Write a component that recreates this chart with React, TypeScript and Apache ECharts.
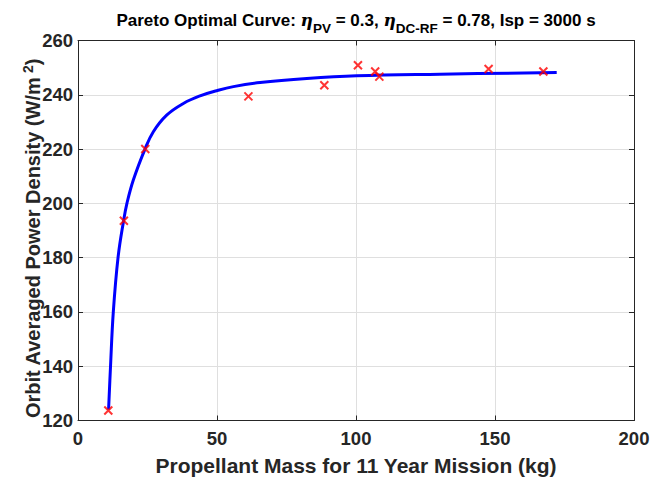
import React, { useEffect, useRef } from "react";
import * as echarts from "echarts";

const curveX = [11.0, 11.7, 12.7, 14.4, 16.4, 17.6, 19.9, 24.1, 27.1, 31.9, 37.9, 43.9, 49.9, 55.9, 65.5, 82.3, 100.2, 130.2, 172.2];
const curveY = [124.0, 140, 160, 180, 193.6, 200, 208.6, 220, 226.4, 232.5, 236.8, 239.6, 241.5, 243.0, 244.5, 246.0, 247.0, 247.6, 248.2];

const pointX = [10.9, 16.5, 24.2, 61.3, 88.6, 100.7, 106.9, 108.4, 147.7, 167.4];
const pointY = [123.7, 193.6, 220, 239.4, 243.5, 250.9, 248.6, 246.7, 249.5, 248.6];

const xTicks = [0, 50, 100, 150, 200];
const yTicks = [120, 140, 160, 180, 200, 220, 240, 260];

const TXT = "#262626";
const FONT = "'Liberation Sans', Arial, Helvetica, sans-serif";

export default function App() {
  const ref = useRef<HTMLDivElement>(null);
  useEffect(() => {
    document.body.style.margin = "0";
    const chart = echarts.init(ref.current!, null, { renderer: "svg" });
    const axisCommon = {
      axisLine: { show: true, onZero: false, lineStyle: { color: TXT, width: 1 } },
      axisTick: { show: true, inside: true, length: 5, lineStyle: { color: TXT } },
    };
    chart.setOption({
      animation: false,
      backgroundColor: "#ffffff",
      title: {
        left: 351,
        textAlign: "center",
        top: 0,
        text: "{b|Pareto Optimal Curve: }{eta|η}{sub|PV}{b| = 0.3, }{eta|η}{sub|DC-RF}{b| = 0.78, Isp = 3000 s}",
        textStyle: {
          rich: {
            b: { fontFamily: FONT, fontWeight: "bold", fontSize: 17, color: "#000", lineHeight: 30, verticalAlign: "middle" },
            eta: { fontFamily: "'DejaVu Serif', serif", fontStyle: "italic", fontSize: 17, color: "#000", lineHeight: 30, verticalAlign: "middle" },
            sub: { fontFamily: FONT, fontWeight: "bold", fontSize: 13.5, color: "#000", lineHeight: 30, verticalAlign: "bottom" },
          },
        },
      },
      grid: { left: 78, right: 33, top: 40.5, bottom: 60.5, containLabel: false, outerBoundsMode: "none" },
      xAxis: [
        {
          type: "value",
          min: xTicks[0],
          max: xTicks[xTicks.length - 1],
          interval: 50,
          position: "bottom",
          ...axisCommon,
          axisLabel: { color: TXT, fontFamily: FONT, fontWeight: "bold", fontSize: 18.5, margin: 8 },
          splitLine: { show: true, lineStyle: { color: "#dfdfdf", width: 1 } },
          name: "Propellant Mass for 11 Year Mission (kg)",
          nameLocation: "middle",
          nameGap: 34,
          nameMoveOverlap: false,
          nameTextStyle: { color: TXT, fontFamily: FONT, fontWeight: "bold", fontSize: 21 },
        },
        {
          type: "value",
          min: xTicks[0],
          max: xTicks[xTicks.length - 1],
          interval: 50,
          position: "top",
          ...axisCommon,
          axisLabel: { show: false },
          splitLine: { show: false },
        },
      ],
      yAxis: [
        {
          type: "value",
          min: yTicks[0],
          max: yTicks[yTicks.length - 1],
          interval: 20,
          position: "left",
          ...axisCommon,
          axisLabel: { color: TXT, fontFamily: FONT, fontWeight: "bold", fontSize: 18.5, margin: 5 },
          splitLine: { show: true, lineStyle: { color: "#dfdfdf", width: 1 } },
          name: "{b|Orbit Averaged Power Density (W/m}{sup| 2}{e|)}",
          nameLocation: "middle",
          nameGap: 33,
          nameMoveOverlap: false,
          nameRotate: 90,
          nameTextStyle: {
            rich: {
              b: { color: TXT, fontFamily: FONT, fontWeight: "bold", fontSize: 20, lineHeight: 24, verticalAlign: "middle" },
              e: { color: TXT, fontFamily: FONT, fontWeight: "bold", fontSize: 20, lineHeight: 24, verticalAlign: "middle", padding: [0, 16, 0, 0] },
              sup: { color: TXT, fontFamily: FONT, fontWeight: "bold", fontSize: 14, lineHeight: 24, verticalAlign: "top" },
            },
          },
        },
        {
          type: "value",
          min: yTicks[0],
          max: yTicks[yTicks.length - 1],
          interval: 20,
          position: "right",
          ...axisCommon,
          axisLabel: { show: false },
          splitLine: { show: false },
        },
      ],
      series: [
        {
          type: "line",
          xAxisIndex: 0,
          yAxisIndex: 0,
          data: curveX.map((x, i) => [x, curveY[i]]),
          smooth: 0.4,
          showSymbol: false,
          symbol: "none",
          lineStyle: { color: "#0000ff", width: 3 },
          z: 2,
        },
        {
          type: "scatter",
          xAxisIndex: 0,
          yAxisIndex: 0,
          data: pointX.map((x, i) => [x, pointY[i]]),
          symbol: "path://M0,0L10,10M10,0L0,10",
          symbolSize: 8,
          itemStyle: { color: "none", borderColor: "#ff0000", borderWidth: 2 },
          z: 3,
        },
      ],
    });
    return () => chart.dispose();
  }, []);
  return <div ref={ref} style={{ width: 667, height: 481 }} />;
}
